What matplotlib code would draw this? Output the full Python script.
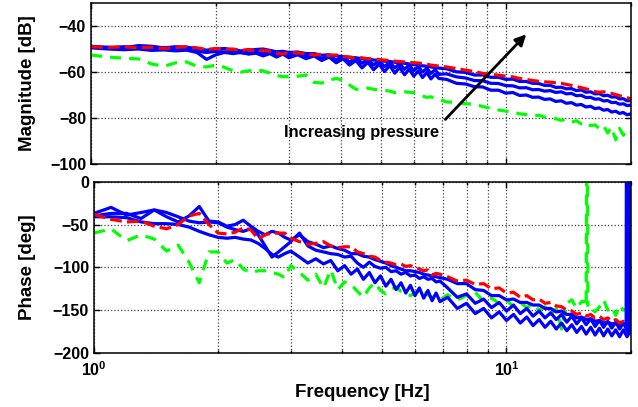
import numpy as np
import matplotlib.pyplot as plt
from matplotlib.ticker import FixedLocator, FixedFormatter, NullFormatter

plt.rcParams['font.family'] = 'Liberation Sans'
plt.rcParams['font.weight'] = 'bold'
plt.rcParams['mathtext.fontset'] = 'custom'
plt.rcParams['mathtext.rm'] = 'Liberation Sans:bold'
plt.rcParams['mathtext.bf'] = 'Liberation Sans:bold'

# frequency points [Hz]
freq = [1.0, 1.1, 1.2, 1.3, 1.4, 1.5, 1.6, 1.7, 1.8, 1.9,
        2.0, 2.1, 2.2, 2.3, 2.4, 2.5, 2.6, 2.7, 2.8, 2.9,
        3.0, 3.15, 3.3, 3.45, 3.6, 3.75, 3.9, 4.05, 4.2, 4.35,
        4.5, 4.65, 4.8, 4.95, 5.1, 5.25, 5.4, 5.55, 5.7, 5.85,
        6.0, 6.15, 6.3, 6.45, 6.6, 6.75, 6.9,
        7.2, 7.6, 8.0, 8.4, 8.8, 9.2, 9.6, 10.0, 10.4, 10.8,
        11.2, 11.6, 12.0, 12.4, 12.8, 13.2, 13.6, 14.0, 14.4, 14.8,
        15.2, 15.6, 16.0, 16.4, 16.8, 17.2, 17.6, 18.0, 18.4, 18.8,
        19.2, 19.6, 20.0]

# magnitude [dB]
mag_model = [-49.0, -49.3, -49.0, -49.5, -49.2, -49.8, -49.3, -49.0, -49.5, -50.2,
             -49.8, -50.3, -50.0, -50.6, -50.2, -50.8, -50.5, -51.0, -51.8, -52.2,
             -51.5, -51.7, -52.0, -52.6, -52.3, -52.8, -52.6, -53.2, -53.5, -54.0,
             -53.8, -54.3, -54.2, -54.6, -54.8, -55.0, -55.3, -55.5, -55.6, -55.8,
             -56.0, -56.1, -56.3, -56.6, -57.0, -57.2, -57.4,
             -57.8, -58.5, -59.2, -59.8, -60.6, -61.0, -61.4, -61.8, -62.1, -62.8,
             -63.2, -63.7, -64.0, -64.3, -64.4, -64.7, -64.9, -65.4, -65.8, -66.3,
             -66.8, -67.3, -67.9, -68.5, -68.8, -68.6, -69.0, -69.3, -69.8, -70.3,
             -70.8, -71.2, -71.6]
mag_p0 = [-52.6, -53.5, -54.0, -54.3, -56.5, -57.5, -56.0, -55.6, -57.5, -57.8,
          -57.0, -58.0, -59.5, -60.0, -59.5, -59.0, -59.5, -60.5, -61.5, -62.0,
          -62.0, -61.8, -61.3, -64.5, -64.8, -63.5, -62.8, -63.5, -65.6, -67.5,
          -67.5, -67.0, -67.5, -67.8, -68.0, -68.3, -69.0, -68.8, -68.6, -68.8,
          -69.0, -69.8, -70.5, -71.0, -70.8, -71.3, -71.8,
          -73.0, -73.2, -73.8, -74.0, -75.0, -75.8, -76.5, -77.0, -77.4, -78.2,
          -78.5, -79.0, -78.8, -79.6, -80.5, -80.3, -81.0, -80.6, -81.8, -81.2,
          -82.5, -81.8, -83.3, -83.0, -84.5, -83.2, -86.5, -84.0, -89.5, -84.5,
          -87.5, -85.0, -86.0]
mag_p1 = [-49.0, -49.2, -49.6, -48.5, -48.8, -49.5, -49.0, -49.2, -49.8, -50.5,
          -50.0, -49.8, -50.3, -50.8, -50.5, -50.2, -50.0, -50.6, -51.2, -51.0,
          -51.5, -51.3, -52.0, -52.0, -52.7, -52.5, -53.0, -53.3, -53.6, -53.8,
          -54.3, -54.2, -54.8, -54.9, -55.3, -55.4, -55.8, -56.0, -56.2, -56.5,
          -56.8, -57.0, -57.3, -57.5, -57.8, -58.0, -58.3,
          -58.6, -59.9, -60.2, -61.3, -61.3, -62.3, -62.3, -63.2, -63.1, -64.1,
          -64.1, -64.9, -65.0, -65.8, -65.8, -66.7, -66.6, -67.3, -67.2, -68.1,
          -67.8, -68.8, -68.6, -69.5, -69.4, -70.3, -70.1, -70.9, -70.8, -71.7,
          -71.6, -72.5, -72.4]
mag_p2 = [-48.8, -49.5, -49.0, -49.3, -49.8, -49.5, -50.0, -50.2, -51.0, -51.5,
          -51.0, -51.3, -51.0, -51.6, -52.0, -51.4, -52.0, -51.5, -52.6, -51.8,
          -52.8, -51.8, -53.4, -52.4, -54.2, -52.8, -54.8, -53.4, -55.6, -54.0,
          -56.2, -54.6, -56.9, -55.2, -57.6, -55.8, -58.2, -56.4, -58.8, -57.0,
          -59.4, -57.6, -60.0, -58.4, -60.6, -59.0, -61.0,
          -60.8, -62.1, -62.6, -63.7, -63.8, -64.9, -65.0, -65.9, -66.0, -66.9,
          -66.8, -67.7, -67.6, -68.3, -68.1, -68.9, -68.6, -69.5, -69.3, -70.3,
          -70.1, -71.1, -71.0, -71.8, -71.7, -72.6, -72.4, -73.3, -73.2, -74.0,
          -73.8, -74.6, -74.4]
mag_p3 = [-49.5, -50.0, -50.3, -50.0, -50.6, -50.4, -50.8, -50.5, -51.5, -54.5,
          -52.5, -51.5, -52.0, -51.5, -52.2, -51.8, -53.0, -52.0, -53.5, -52.2,
          -53.8, -52.5, -54.2, -53.0, -55.0, -53.5, -56.0, -54.2, -57.0, -55.0,
          -58.2, -55.8, -59.0, -56.6, -59.8, -57.2, -60.5, -58.0, -61.2, -58.8,
          -61.8, -59.5, -62.4, -60.2, -63.0, -61.0, -62.8,
          -63.2, -64.9, -65.2, -66.4, -66.5, -67.9, -67.9, -69.2, -68.9, -70.2,
          -70.0, -71.0, -70.9, -71.9, -71.7, -72.8, -72.5, -73.6, -73.3, -74.4,
          -74.1, -75.2, -74.9, -75.9, -75.6, -76.6, -76.3, -77.4, -77.0, -78.0,
          -77.6, -78.6, -78.2]

# phase [deg]
ph_model = [-38, -44, -47, -46, -52, -55, -50, -40, -37, -50,
            -60, -61, -59, -54, -56, -67, -62, -60, -60, -60,
            -66, -70, -73, -72, -70, -75, -77, -76, -76, -82,
            -84, -87, -88, -92, -94, -95, -97, -96, -99, -98,
            -100, -102, -104, -103, -109, -107, -108,
            -111, -116, -115, -120, -119, -125, -124, -130, -129, -135,
            -133, -138, -137, -142, -141, -145, -146, -150, -151, -155,
            -153, -157, -155, -159, -157, -161, -159, -163, -161, -165,
            -163, -167, -166]
ph_p0 = [-60, -55, -69, -62, -67, -81, -74, -94, -118, -82,
         -82, -95, -91, -102, -106, -104, -104, -106, -108, -112,
         -98, -106, -115, -108, -124, -103, -126, -117, -120, -128,
         -135, -124, -118, -127, -131, -126, -123, -128, -130, -133,
         -130, -127, -126, -132, -135, -137, -138,
         -132, -138, -133, -129, -140, -136, -142, -138, -146, -141,
         -147, -143, -150, -146, -155, -148, -172, -142, -138, -148,
         -140, -140, -148, -152, -146, -138, -150, -146, -156, -144,
         -150, -148, -163]
ph_p1 = [-37, -30, -39, -36, -33, -41, -47, -40, -29, -46,
         -47, -52, -50, -45, -52, -58, -62, -58, -60, -65,
         -68, -62, -70, -73, -77, -75, -78, -80, -84, -84,
         -87, -88, -91, -93, -95, -98, -100, -102, -104, -104,
         -105, -106, -108, -109, -110, -111, -112,
         -114, -119, -119, -126, -127, -133, -133, -138, -137, -141,
         -141, -144, -144, -148, -148, -152, -151, -155, -155, -159,
         -158, -161, -160, -163, -162, -165, -164, -166, -165, -167,
         -166, -168, -167]
ph_p2 = [-40, -37, -37, -43, -33, -36, -41, -46, -48, -47,
         -48, -53, -56, -58, -55, -62, -75, -88, -82, -76,
         -70, -60, -75, -80, -82, -84, -85, -88, -87, -95,
         -100, -94, -99, -101, -100, -105, -104, -108, -106, -110,
         -109, -113, -111, -114, -113, -117, -116,
         -124, -135, -131, -142, -137, -147, -141, -151, -144, -154,
         -148, -157, -151, -159, -153, -161, -155, -164, -157, -166,
         -159, -167, -160, -169, -162, -170, -163, -171, -164, -172,
         -165, -173, -166]
ph_p3 = [-41, -41, -42, -47, -49, -49, -50, -53, -58, -62,
         -65, -66, -65, -67, -68, -72, -78, -85, -88, -84,
         -81, -88, -95, -90, -96, -92, -104, -98, -108, -102,
         -114, -106, -118, -110, -122, -114, -126, -118, -130, -121,
         -133, -124, -136, -127, -139, -130, -140,
         -135, -148, -142, -154, -148, -159, -152, -162, -155, -165,
         -158, -168, -161, -170, -163, -172, -165, -174, -167, -176,
         -169, -178, -170, -179, -171, -180, -172, -180, -173, -181,
         -173, -181, -174]

# phase wrap-around at the upper end of two records
wrap_freq_p0 = [15.6, 15.7, 15.75]
wrap_ph_p0 = [-140, 185, -146]
wrap_freq_p3 = [19.5, 19.55, 19.65, 19.75, 19.85, 19.95, 20.0]
wrap_ph_p3 = [-172, 185, -175, 185, -176, 185, 185]

BLUE = '#0000ff'
RED = '#ff0000'
GREEN = '#00ff00'
LW = 2.3


def style_axes(ax, ylim, yticks):
    ax.set_xscale('log')
    ax.set_xlim(1, 20)
    ax.set_ylim(*ylim)
    ax.set_yticks(yticks)
    ax.xaxis.set_major_locator(FixedLocator([1, 10]))
    ax.xaxis.set_minor_locator(FixedLocator([2, 3, 4, 5, 6, 7, 8, 9, 20]))
    ax.xaxis.set_minor_formatter(NullFormatter())
    ax.tick_params(which='both', direction='in', top=True, right=True,
                   labelsize=11.5, width=1)
    ax.tick_params(which='major', length=4)
    ax.tick_params(which='minor', length=2.5)
    ax.grid(True, which='major', linestyle=':', color='0.25', linewidth=0.9)
    ax.xaxis.grid(True, which='minor', linestyle=':', color='0.25', linewidth=0.9)
    for s in ax.spines.values():
        s.set_linewidth(1.1)


def draw_set(ax, model, p0, p1, p2, p3):
    ax.plot(freq, p0, color=GREEN, lw=LW, dashes=(3.5, 2.5))
    ax.plot(freq, p3, '-', color=BLUE, lw=LW)
    ax.plot(freq, p2, '-', color=BLUE, lw=LW)
    ax.plot(freq, p1, '-', color=BLUE, lw=LW)
    ax.plot(freq, model, '--', color=RED, lw=LW)


fig = plt.figure(figsize=(6.38, 4.07), dpi=100)
ax1 = fig.add_axes([0.1426, 0.597, 0.8459, 0.3956])
ax2 = fig.add_axes([0.1473, 0.1327, 0.8412, 0.4209])

# magnitude
draw_set(ax1, mag_model, mag_p0, mag_p1, mag_p2, mag_p3)
style_axes(ax1, (-100, -30), [-100, -80, -60, -40])
ax1.tick_params(labelbottom=False)
ax1.set_ylabel('Magnitude [dB]', fontsize=13.5, fontweight='bold')
ax1.yaxis.set_label_coords(-0.102, 0.5)
ax1.annotate('', xy=(11.2, -43.6), xytext=(7.15, -80.6),
             arrowprops=dict(arrowstyle='-|>', color='k', lw=2,
                             mutation_scale=16, shrinkA=0, shrinkB=0))
ax1.text(2.92, -86.5, 'Increasing pressure', fontsize=11.8,
         fontweight='bold', va='center', ha='left')

# phase
ax2.plot(wrap_freq_p0, wrap_ph_p0, color=GREEN, lw=LW, dashes=(3.5, 2.5))
draw_set(ax2, ph_model, ph_p0, ph_p1, ph_p2, ph_p3)
ax2.plot(wrap_freq_p3, wrap_ph_p3, '-', color=BLUE, lw=LW)
style_axes(ax2, (-200, 0), [-200, -150, -100, -50, 0])
ax2.xaxis.set_major_formatter(FixedFormatter([r'$10^{0}$', r'$10^{1}$']))
ax2.tick_params(axis='x', which='major', pad=5)
ax2.set_ylabel('Phase [deg]', fontsize=13.5, fontweight='bold')
ax2.yaxis.set_label_coords(-0.108, 0.5)
ax2.set_xlabel('Frequency [Hz]', fontsize=13.5, fontweight='bold', labelpad=4)

fig.savefig('out.png', dpi=100)
